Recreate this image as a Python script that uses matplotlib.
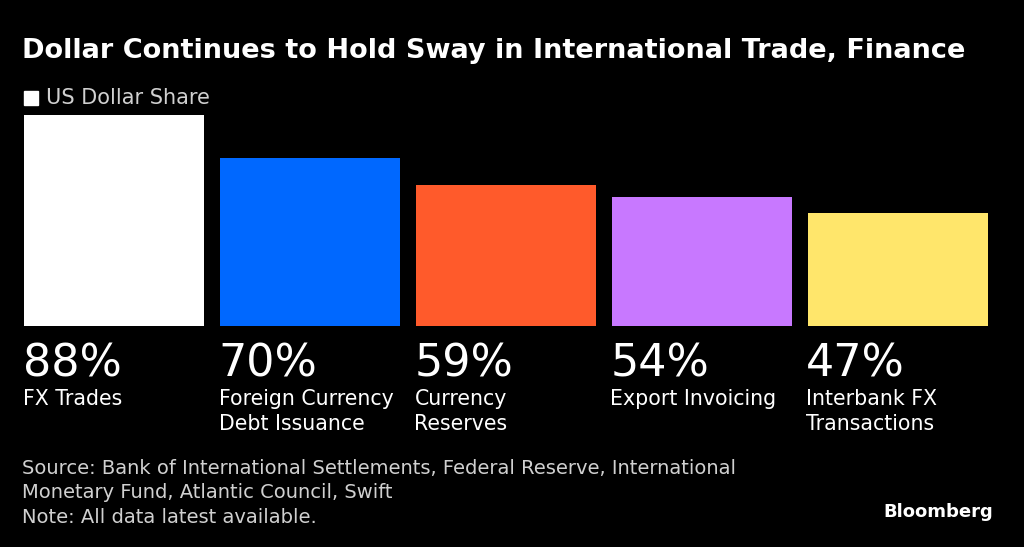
import matplotlib.pyplot as plt
from matplotlib.patches import Rectangle

# Data
categories = ["FX Trades", "Foreign Currency\nDebt Issuance", "Currency\nReserves",
              "Export Invoicing", "Interbank FX\nTransactions"]
shares = [88, 70, 59, 54, 47]
colors = ["#ffffff", "#0068ff", "#ff5a2b", "#c878ff", "#ffe66b"]

bar_w = 0.92

fig = plt.figure(figsize=(10.24, 5.47), dpi=100, facecolor="black")
ax = fig.add_axes([24 / 1024, (547 - 326) / 547, 964 / 1024, 211 / 547])
ax.set_facecolor("black")

x = list(range(len(shares)))
ax.bar(x, shares, width=bar_w, color=colors)
ax.set_xlim(-bar_w / 2, len(shares) - 1 + bar_w / 2)
ax.set_ylim(0, max(shares))
ax.axis("off")

# value and category labels under each bar
for i, (v, name) in enumerate(zip(shares, categories)):
    ax.annotate(f"{v}%", xy=(i - bar_w / 2, 0), xytext=(-1, -12),
                textcoords="offset points", ha="left", va="top",
                fontsize=32, color="white", family="DejaVu Sans")
    ax.annotate(name, xy=(i - bar_w / 2, 0), xytext=(-1, -45.5),
                textcoords="offset points", ha="left", va="top",
                fontsize=14.8, color="white", family="DejaVu Sans",
                linespacing=1.32)

# title and legend
fig.text(22 / 1024, 1 - 51 / 547, "Dollar Continues to Hold Sway in International Trade, Finance",
         fontsize=19.5, fontweight="bold", color="white", va="center", ha="left")
fig.patches.append(Rectangle((24 / 1024, 1 - 105 / 547), 14 / 1024, 14 / 547,
                             transform=fig.transFigure, color="white"))
fig.text(46 / 1024, 1 - 98 / 547, "US Dollar Share", fontsize=15, color="#d0d0d0",
         va="center", ha="left")

# footer
footer = ("Source: Bank of International Settlements, Federal Reserve, International\n"
          "Monetary Fund, Atlantic Council, Swift\n"
          "Note: All data latest available.")
fig.text(22 / 1024, 1 - 459 / 547, footer, fontsize=14, color="#d0d0d0",
         family="DejaVu Sans", va="top", ha="left", linespacing=1.36)
fig.text(993 / 1024, 1 - 512 / 547, "Bloomberg", fontsize=13, fontweight="bold",
         color="white", va="center", ha="right")

plt.savefig("out.png", dpi=100, facecolor="black")
